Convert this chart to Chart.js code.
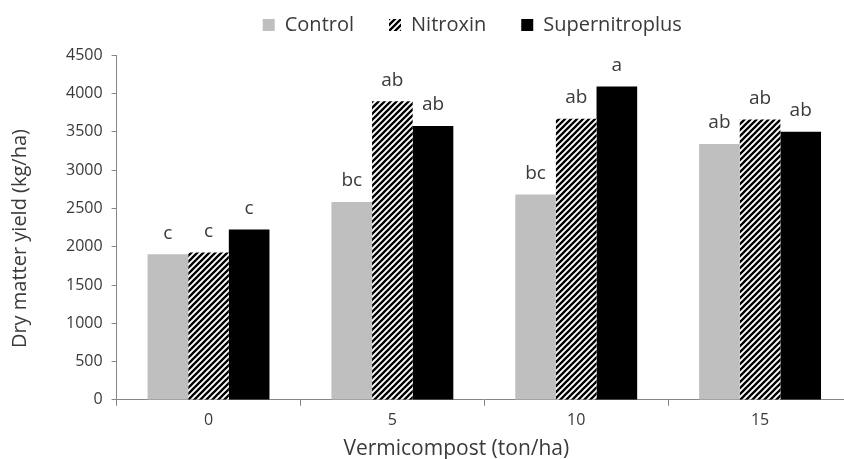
<!DOCTYPE html>
<html>
<head>
<meta charset="utf-8">
<script src="https://cdn.jsdelivr.net/npm/chart.js@4.4.1/dist/chart.umd.min.js"></script>
<style>
  html, body { margin: 0; padding: 0; background: #fff; overflow: hidden; }
  #wrap { width: 844px; height: 459px; overflow: hidden; }
</style>
</head>
<body>
<div id="wrap"><canvas id="yieldChart" width="860" height="459"></canvas></div>
<script>
const categories = ['0', '5', '10', '15']
const controlYield = [1900, 2585, 2680, 3340]
const nitroxinYield = [1925, 3900, 3670, 3660]
const superYield = [2225, 3575, 4090, 3500]
const controlLetters = ['c', 'bc', 'bc', 'ab']
const nitroxinLetters = ['c', 'ab', 'ab', 'ab']
const superLetters = ['c', 'ab', 'a', 'ab']
const yTicks = [0, 500, 1000, 1500, 2000, 2500, 3000, 3500, 4000, 4500]
const xTitle = 'Vermicompost (ton/ha)'
const yTitle = 'Dry matter yield (kg/ha)'

const FONT = '"Open Sans", sans-serif'
const TEXT = '#3a3a3a'
const AXIS = '#868686'
const HIDDEN = 'rgba(0,0,0,0)'

const canvas = document.getElementById('yieldChart')
const ctx = canvas.getContext('2d')

// diagonal "/" hatch for Nitroxin
function makeHatch() {
  const tile = document.createElement('canvas')
  tile.width = 6
  tile.height = 6
  const t = tile.getContext('2d')
  t.fillStyle = '#ffffff'
  t.fillRect(0, 0, 6, 6)
  t.strokeStyle = '#000000'
  t.lineWidth = 2.3
  t.beginPath()
  t.moveTo(-1, 7); t.lineTo(7, -1)
  t.moveTo(-1, 1); t.lineTo(1, -1)
  t.moveTo(5, 7); t.lineTo(7, 5)
  t.stroke()
  return ctx.createPattern(tile, 'repeat')
}

const letters = [controlLetters, nitroxinLetters, superLetters]

// significance letters above each bar
const letterPlugin = {
  id: 'letters',
  afterDatasetsDraw(chart) {
    const c = chart.ctx
    c.save()
    c.font = '19px ' + FONT
    c.fillStyle = TEXT
    c.textAlign = 'center'
    c.textBaseline = 'middle'
    chart.data.datasets.forEach((ds, di) => {
      const meta = chart.getDatasetMeta(di)
      meta.data.forEach((bar, i) => {
        c.fillText(letters[di][i], bar.x, bar.y - 21)
      })
    })
    c.restore()
  },
}

// legend and axis titles sit a little off the plot centre in the original
const offCentre = {
  id: 'offCentre',
  afterLayout(chart) {
    chart.legend.left -= 12
    chart.legend.right -= 12
  },
  afterDraw(chart) {
    const x = chart.scales.x
    const y = chart.scales.y
    const c = chart.ctx
    c.save()
    c.fillStyle = TEXT
    c.textAlign = 'center'
    c.textBaseline = 'middle'
    c.font = '21px ' + FONT
    c.fillText(xTitle, (x.left + x.right) / 2 - 28, x.bottom - 10)
    c.translate(y.left + 20, (y.top + y.bottom) / 2 + 11)
    c.rotate(-Math.PI / 2)
    c.font = '20px ' + FONT
    c.fillText(yTitle, 0, 0)
    c.restore()
  },
}

const chart = new Chart(ctx, {
  type: 'bar',
  data: {
    labels: categories,
    datasets: [
      { label: 'Control', data: controlYield, backgroundColor: '#bfbfbf', borderWidth: 0 },
      { label: 'Nitroxin', data: nitroxinYield, backgroundColor: makeHatch(), borderWidth: 0 },
      { label: 'Supernitroplus', data: superYield, backgroundColor: '#000000', borderWidth: 0 },
    ],
  },
  options: {
    responsive: false,
    animation: false,
    devicePixelRatio: 1,
    layout: { padding: { left: 0, right: 8, top: -20, bottom: 0 } },
    datasets: { bar: { barPercentage: 1, categoryPercentage: 0.663 } },
    plugins: {
      tooltip: { enabled: false },
      legend: {
        position: 'top',
        fullSize: false,
        labels: {
          boxWidth: 12,
          boxHeight: 12,
          padding: 35,
          color: TEXT,
          font: { family: FONT, size: 20 },
        },
      },
      // empty spacer between legend and plot
      subtitle: {
        display: true,
        text: '',
        position: 'top',
        weight: 500,
        fullSize: false,
        font: { size: 1 },
        padding: { top: 9, bottom: 0 },
      },
    },
    scales: {
      x: {
        grid: { offset: true, drawOnChartArea: false, drawTicks: true, tickLength: 6, color: AXIS },
        border: { color: AXIS },
        ticks: { color: TEXT, font: { family: FONT, size: 16, lineHeight: 1 }, padding: 7 },
        // space is kept here, the text itself is drawn by offCentre
        title: { display: true, text: xTitle, color: HIDDEN, font: { family: FONT, size: 21, lineHeight: 1.1 }, padding: { top: 0, bottom: 0 } },
      },
      y: {
        min: 0,
        max: 4500,
        afterBuildTicks(axis) {
          axis.ticks = yTicks.map((v) => ({ value: v }))
        },
        grid: { drawOnChartArea: false, drawTicks: true, tickLength: 5, color: AXIS },
        border: { color: AXIS },
        ticks: { color: TEXT, font: { family: FONT, size: 16 }, padding: 9, callback: (v) => String(v) },
        title: { display: true, text: yTitle, color: HIDDEN, font: { family: FONT, size: 20 }, padding: { top: 8, bottom: 25 } },
      },
    },
  },
  plugins: [letterPlugin, offCentre],
})
</script>
</body>
</html>
